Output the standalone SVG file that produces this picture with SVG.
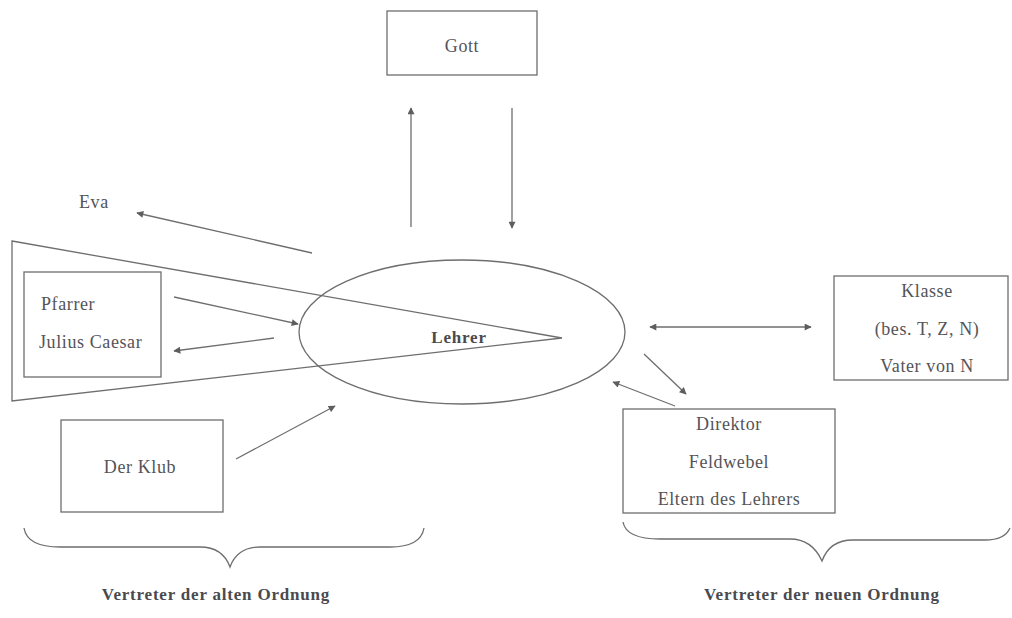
<svg xmlns="http://www.w3.org/2000/svg" width="1012" height="618" viewBox="0 0 1012 618">
<defs>
<style>
.box{fill:none;stroke:#6e6e6e;stroke-width:1.3}
.ln{fill:none;stroke:#6e6e6e;stroke-width:1.3}
.ar{fill:none;stroke:#6e6e6e;stroke-width:1.3;marker-end:url(#ah)}
.t{font-family:"Liberation Serif","Times New Roman",serif;font-size:18px;fill:#545458;letter-spacing:0.6px}
.c{text-anchor:middle}
.b{font-weight:bold;font-size:17px;letter-spacing:0.8px;fill:#4a4a4e}
</style>
<marker id="ah" viewBox="0 0 10 10" refX="9" refY="5" markerWidth="9" markerHeight="7" markerUnits="userSpaceOnUse" orient="auto-start-reverse">
<path d="M0,0 L10,5 L0,10 Z" fill="#5e5e5e"/>
</marker>
</defs>
<rect width="1012" height="618" fill="#ffffff"/>

<g id="wedge">
<path class="ln" d="M12,241 L562,338 L12,401 Z"/>
</g>

<g id="gott">
<rect class="box" x="387" y="11" width="150" height="64"/>
<text class="t c" x="462" y="52">Gott</text>
</g>

<g id="lehrer">
<ellipse class="box" cx="462" cy="332" rx="163" ry="72"/>
<text class="t c b" x="459" y="343">Lehrer</text>
</g>

<g id="eva">
<text class="t" x="79" y="208">Eva</text>
</g>

<g id="pfarrer">
<rect class="box" x="24" y="272" width="137" height="105"/>
<text class="t" x="41" y="310">Pfarrer</text>
<text class="t" x="39" y="348">Julius Caesar</text>
</g>

<g id="klub">
<rect class="box" x="61" y="420" width="162" height="92"/>
<text class="t c" x="140" y="473">Der Klub</text>
</g>

<g id="klasse">
<rect class="box" x="834" y="276" width="174" height="104"/>
<text class="t c" x="927" y="297">Klasse</text>
<text class="t c" x="927" y="335">(bes. T, Z, N)</text>
<text class="t c" x="927" y="372">Vater von N</text>
</g>

<g id="direktor">
<rect class="box" x="623" y="409" width="212" height="104"/>
<text class="t c" x="729" y="430">Direktor</text>
<text class="t c" x="729" y="468">Feldwebel</text>
<text class="t c" x="729" y="505">Eltern des Lehrers</text>
</g>

<g id="connectors">
<line class="ar" x1="411" y1="227" x2="411" y2="108"/>
<line class="ar" x1="512" y1="108" x2="512" y2="228"/>
<line class="ar" x1="312" y1="253" x2="137" y2="213"/>
<line class="ar" x1="174" y1="297" x2="298" y2="324"/>
<line class="ar" x1="274" y1="338" x2="174" y2="351"/>
<line class="ar" x1="236" y1="459" x2="335" y2="406"/>
<line class="ar" x1="650" y1="327" x2="811" y2="327" style="marker-start:url(#ah)"/>
<line class="ar" x1="644" y1="354" x2="686" y2="394"/>
<line class="ar" x1="675" y1="406" x2="613" y2="382"/>
</g>

<g id="brace-alt">
<path class="ln" d="M24,528 C26,540 36,547 60,547 L200,547 C218,547 226,556 230,567 C234,556 242,547 260,547 L390,547 C412,547 422,540 424,528"/>
<text class="t c b" x="216" y="600">Vertreter der alten Ordnung</text>
</g>

<g id="brace-neu">
<path class="ln" d="M623,522 C625,533 636,539 660,539 L790,539 C808,539 817,550 822,561 C826,550 835,540 853,540 L985,540 C1000,540 1007,535 1010,528"/>
<text class="t c b" x="822" y="600">Vertreter der neuen Ordnung</text>
</g>
</svg>
